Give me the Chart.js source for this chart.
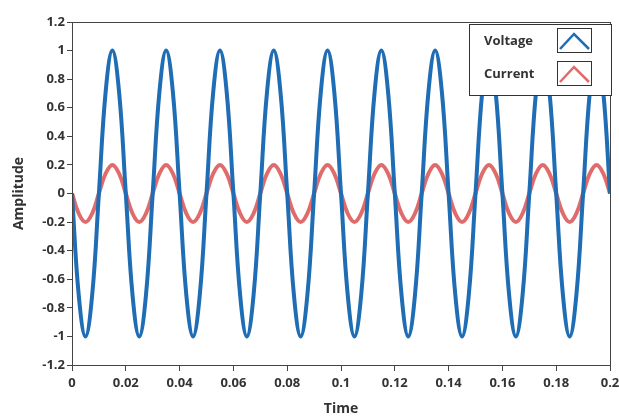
<!DOCTYPE html>
<html>
<head>
<meta charset="utf-8">
<script src="https://cdn.jsdelivr.net/npm/chart.js@4.4.0/dist/chart.umd.min.js"></script>
<style>
    html, body { margin: 0; padding: 0; background: #fff; }
    #wrap { width: 619px; height: 416px; position: relative; }
</style>
</head>
<body>
<div id="wrap"><canvas id="waveChart"></canvas></div>
<script>
// Time samples (s), every 2.5 ms over 0..0.2 s
const times = [
    0, 0.0025, 0.005, 0.0075, 0.01, 0.0125, 0.015, 0.0175,
    0.02, 0.0225, 0.025, 0.0275, 0.03, 0.0325, 0.035, 0.0375,
    0.04, 0.0425, 0.045, 0.0475, 0.05, 0.0525, 0.055, 0.0575,
    0.06, 0.0625, 0.065, 0.0675, 0.07, 0.0725, 0.075, 0.0775,
    0.08, 0.0825, 0.085, 0.0875, 0.09, 0.0925, 0.095, 0.0975,
    0.1, 0.1025, 0.105, 0.1075, 0.11, 0.1125, 0.115, 0.1175,
    0.12, 0.1225, 0.125, 0.1275, 0.13, 0.1325, 0.135, 0.1375,
    0.14, 0.1425, 0.145, 0.1475, 0.15, 0.1525, 0.155, 0.1575,
    0.16, 0.1625, 0.165, 0.1675, 0.17, 0.1725, 0.175, 0.1775,
    0.18, 0.1825, 0.185, 0.1875, 0.19, 0.1925, 0.195, 0.1975,
    0.2
];

const voltage = [
    0, -0.71, -1, -0.71, 0, 0.71, 1, 0.71,
    0, -0.71, -1, -0.71, 0, 0.71, 1, 0.71,
    0, -0.71, -1, -0.71, 0, 0.71, 1, 0.71,
    0, -0.71, -1, -0.71, 0, 0.71, 1, 0.71,
    0, -0.71, -1, -0.71, 0, 0.71, 1, 0.71,
    0, -0.71, -1, -0.71, 0, 0.71, 1, 0.71,
    0, -0.71, -1, -0.71, 0, 0.71, 1, 0.71,
    0, -0.71, -1, -0.71, 0, 0.71, 1, 0.71,
    0, -0.71, -1, -0.71, 0, 0.71, 1, 0.71,
    0, -0.71, -1, -0.71, 0, 0.71, 1, 0.71,
    0
];

const current = [
    0, -0.14, -0.2, -0.14, 0, 0.14, 0.2, 0.14,
    0, -0.14, -0.2, -0.14, 0, 0.14, 0.2, 0.14,
    0, -0.14, -0.2, -0.14, 0, 0.14, 0.2, 0.14,
    0, -0.14, -0.2, -0.14, 0, 0.14, 0.2, 0.14,
    0, -0.14, -0.2, -0.14, 0, 0.14, 0.2, 0.14,
    0, -0.14, -0.2, -0.14, 0, 0.14, 0.2, 0.14,
    0, -0.14, -0.2, -0.14, 0, 0.14, 0.2, 0.14,
    0, -0.14, -0.2, -0.14, 0, 0.14, 0.2, 0.14,
    0, -0.14, -0.2, -0.14, 0, 0.14, 0.2, 0.14,
    0, -0.14, -0.2, -0.14, 0, 0.14, 0.2, 0.14,
    0
];

const seriesNames = ['Voltage', 'Current'];
const seriesColors = ['#1f6db4', '#e06b6b'];

const FONT = '"Open Sans", "DejaVu Sans", sans-serif';
const TEXT = '#333';

function fmt(v) {
    return String(Number(v.toFixed(3)));
}

// frame around the plot + the boxed legend with little caret icons
const framePlugin = {
    id: 'frame',
    afterDraw(chart) {
        const { ctx, chartArea: a } = chart;
        ctx.save();
        ctx.strokeStyle = '#444';
        ctx.lineWidth = 1;
        ctx.strokeRect(a.left + 0.5, a.top + 0.5, a.right - a.left, a.bottom - a.top);

        // legend box
        const lx = 469, ly = 24, lw = 142, lh = 71;
        ctx.fillStyle = '#fff';
        ctx.fillRect(lx, ly, lw, lh);
        ctx.strokeStyle = '#333';
        ctx.strokeRect(lx + 0.5, ly + 0.5, lw, lh);

        ctx.font = 'bold 13px ' + FONT;
        ctx.textBaseline = 'middle';
        ctx.textAlign = 'left';
        seriesNames.forEach((name, i) => {
            const cy = 41 + i * 33;
            ctx.fillStyle = TEXT;
            ctx.fillText(name, 484, cy);
            // icon box
            ctx.strokeStyle = '#333';
            ctx.lineWidth = 1;
            ctx.strokeRect(557.5, cy - 12.5, 34, 24);
            ctx.strokeStyle = seriesColors[i];
            ctx.lineWidth = 2.5;
            ctx.beginPath();
            ctx.moveTo(560, cy + 8);
            ctx.lineTo(574, cy - 7);
            ctx.lineTo(589, cy + 8);
            ctx.stroke();
        });
        ctx.restore();
    }
};

const ctx = document.getElementById('waveChart').getContext('2d');

new Chart(ctx, {
    type: 'line',
    data: {
        datasets: [
            {
                label: seriesNames[0],
                data: times.map((t, i) => ({ x: t, y: voltage[i] })),
                borderColor: seriesColors[0],
                borderWidth: 4,
                pointRadius: 0,
                tension: 0.4,
                fill: false
            },
            {
                label: seriesNames[1],
                data: times.map((t, i) => ({ x: t, y: current[i] })),
                borderColor: seriesColors[1],
                borderWidth: 4,
                pointRadius: 0,
                tension: 0.4,
                fill: false
            }
        ]
    },
    options: {
        responsive: true,
        maintainAspectRatio: false,
        animation: false,
        layout: { padding: { top: 22, right: 9, left: 0, bottom: 0 } },
        plugins: {
            legend: { display: false },
            tooltip: { enabled: false }
        },
        scales: {
            x: {
                type: 'linear',
                min: 0,
                max: 0.2,
                afterFit: s => { s.height = 51; s.paddingLeft = 0; s.paddingRight = 0; },
                border: { display: false },
                grid: { drawOnChartArea: false, tickLength: 6, color: '#444' },
                ticks: {
                    stepSize: 0.02,
                    color: TEXT,
                    padding: 4,
                    maxRotation: 0,
                    font: { family: FONT, size: 13, weight: 'bold' },
                    callback: v => fmt(v)
                },
                title: {
                    display: true,
                    text: 'Time',
                    color: TEXT,
                    padding: { top: 0, bottom: -1 },
                    font: { family: FONT, size: 14, weight: 'bold' }
                }
            },
            y: {
                min: -1.2,
                max: 1.2,
                afterFit: s => { s.width = 72; },
                border: { display: false },
                grid: { drawOnChartArea: false, tickLength: 5, color: '#444' },
                ticks: {
                    stepSize: 0.2,
                    color: TEXT,
                    padding: 2,
                    font: { family: FONT, size: 13, weight: 'bold' },
                    callback: v => fmt(v)
                },
                title: {
                    display: true,
                    text: 'Amplitude',
                    color: TEXT,
                    padding: { top: 11, bottom: 0 },
                    font: { family: FONT, size: 14, weight: 'bold' }
                }
            }
        }
    },
    plugins: [framePlugin]
});
</script>
</body>
</html>
